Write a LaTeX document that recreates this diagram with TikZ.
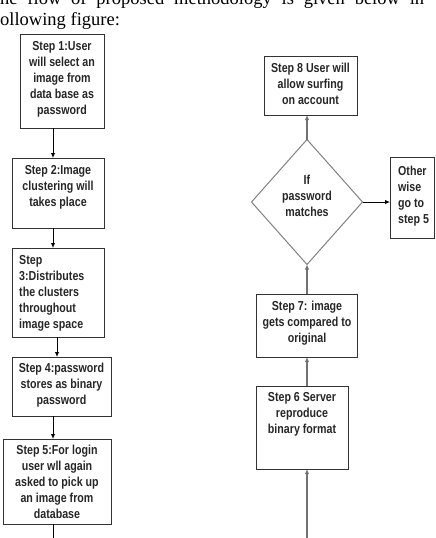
\documentclass[tikz,border=0pt]{standalone}
\usepackage{fontspec}
\setmainfont{Liberation Serif}
\newfontfamily\boxfont[FakeStretch=0.82]{Liberation Sans}
\usetikzlibrary{arrows.meta,shapes.geometric}
\begin{document}
\begin{tikzpicture}[x=1pt,y=-1pt,
  box/.style={draw=black!80, line width=1pt, rectangle, inner sep=0pt, outer sep=0pt, anchor=north west},
  txt/.style={font=\boxfont\bfseries\fontsize{13}{16}\selectfont, align=center, inner sep=0pt, anchor=north, text=black!85},
  ltxt/.style={txt, align=left, anchor=north west},
  head/.style={font=\fontsize{18.5}{21}\selectfont, inner sep=0pt, anchor=base west},
  larr/.style={draw=black, line width=0.9pt, -{Latex[length=5pt,width=4.5pt]}},
  rarr/.style={draw=black!55, line width=1.4pt, -{Latex[length=5pt,width=4.5pt]}},
  rline/.style={draw=black!55, line width=1.4pt}]
\useasboundingbox (0,0) rectangle (436,538);
\clip (0,0) rectangle (436,538);
% header text
\node[head] (h1) at (0,4.5) {\makebox[424pt][s]{he flow of proposed methodology is given below in}};
\node[head] (h2) at (0,25.5) {ollowing figure:};
% guide coordinates
\coordinate (xl) at (53,0);
\coordinate (xl2) at (57,0);
\coordinate (xr) at (307,0);
\coordinate (lout) at (53,538);
\coordinate (rin) at (307,538);
% left column
\node[box, minimum width=84pt, minimum height=94pt] (b1) at (20,34) {};
\node[txt] (t1) at ([yshift=-7pt]b1.north) {Step 1:User\\will select an\\image from\\data base as\\password};
\node[box, minimum width=92pt, minimum height=70pt] (b2) at (12,158) {};
\node[txt] (t2) at ([yshift=-7pt]b2.north) {Step 2:Image\\clustering will\\takes place};
\node[box, minimum width=92pt, minimum height=89pt] (b3) at (12,248) {};
\node[ltxt] (t3) at (19,255) {Step\\3:Distributes\\the clusters\\throughout\\image space};
\node[box, minimum width=99pt, minimum height=59pt] (b4) at (12,357) {};
\node[txt] (t4) at ([yshift=-6pt]b4.north) {Step 4:password\\stores as binary\\password};
\node[box, minimum width=108pt, minimum height=85pt] (b5) at (3,439) {};
\node[txt] (t5) at ([yshift=-6pt]b5.north) {Step 5:For login\\user wll again\\asked to pick up\\an image from\\database};
\draw[larr] (b1.south -| xl) -- (b2.north -| xl);
\draw[larr] (b2.south -| xl) -- (b3.north -| xl);
\draw[larr] (b3.south -| xl2) -- (b4.north -| xl2);
\draw[larr] (b4.south -| xl) -- (b5.north -| xl);
\draw[line width=0.9pt] (b5.south -| xl) -- (lout);
% right column
\node[box, minimum width=93pt, minimum height=59pt] (b8) at (264,56) {};
\node[txt] (t8) at ([yshift=-7pt]b8.north) {Step 8 User will\\allow surfing\\on account};
\node[draw=black!50, line width=1pt, diamond, inner sep=0pt, outer sep=0pt, minimum width=111pt, minimum height=125pt, aspect=0.888] (d) at (307,202) {};
\node[txt, anchor=center] (td) at (307,196) {If\\password\\matches};
\node[box, minimum width=44pt, minimum height=81pt] (ow) at (390,157) {};
\node[ltxt] (tow) at (398,166) {Other\\wise\\go to\\step 5};
\node[box, minimum width=101pt, minimum height=63pt] (b7) at (256,294) {};
\node[txt] (t7) at ([yshift=-7pt]b7.north -| xr) {Step 7: image\\gets compared to\\original};
\node[box, minimum width=92pt, minimum height=83pt] (b6) at (256,386) {};
\node[txt] (t6) at ([yshift=-6pt]b6.north) {Step 6 Server\\reproduce\\binary format};
\draw[rarr] (rin) -- (b6.south -| xr);
\draw[rarr] (b6.north -| xr) -- (b7.south -| xr);
\draw[rarr] (b7.north -| xr) -- (d.south);
\draw[rarr] (d.north) -- (b8.south -| xr);
\draw[larr] (d.east) -- (ow.west |- d.east);
\end{tikzpicture}
\end{document}
